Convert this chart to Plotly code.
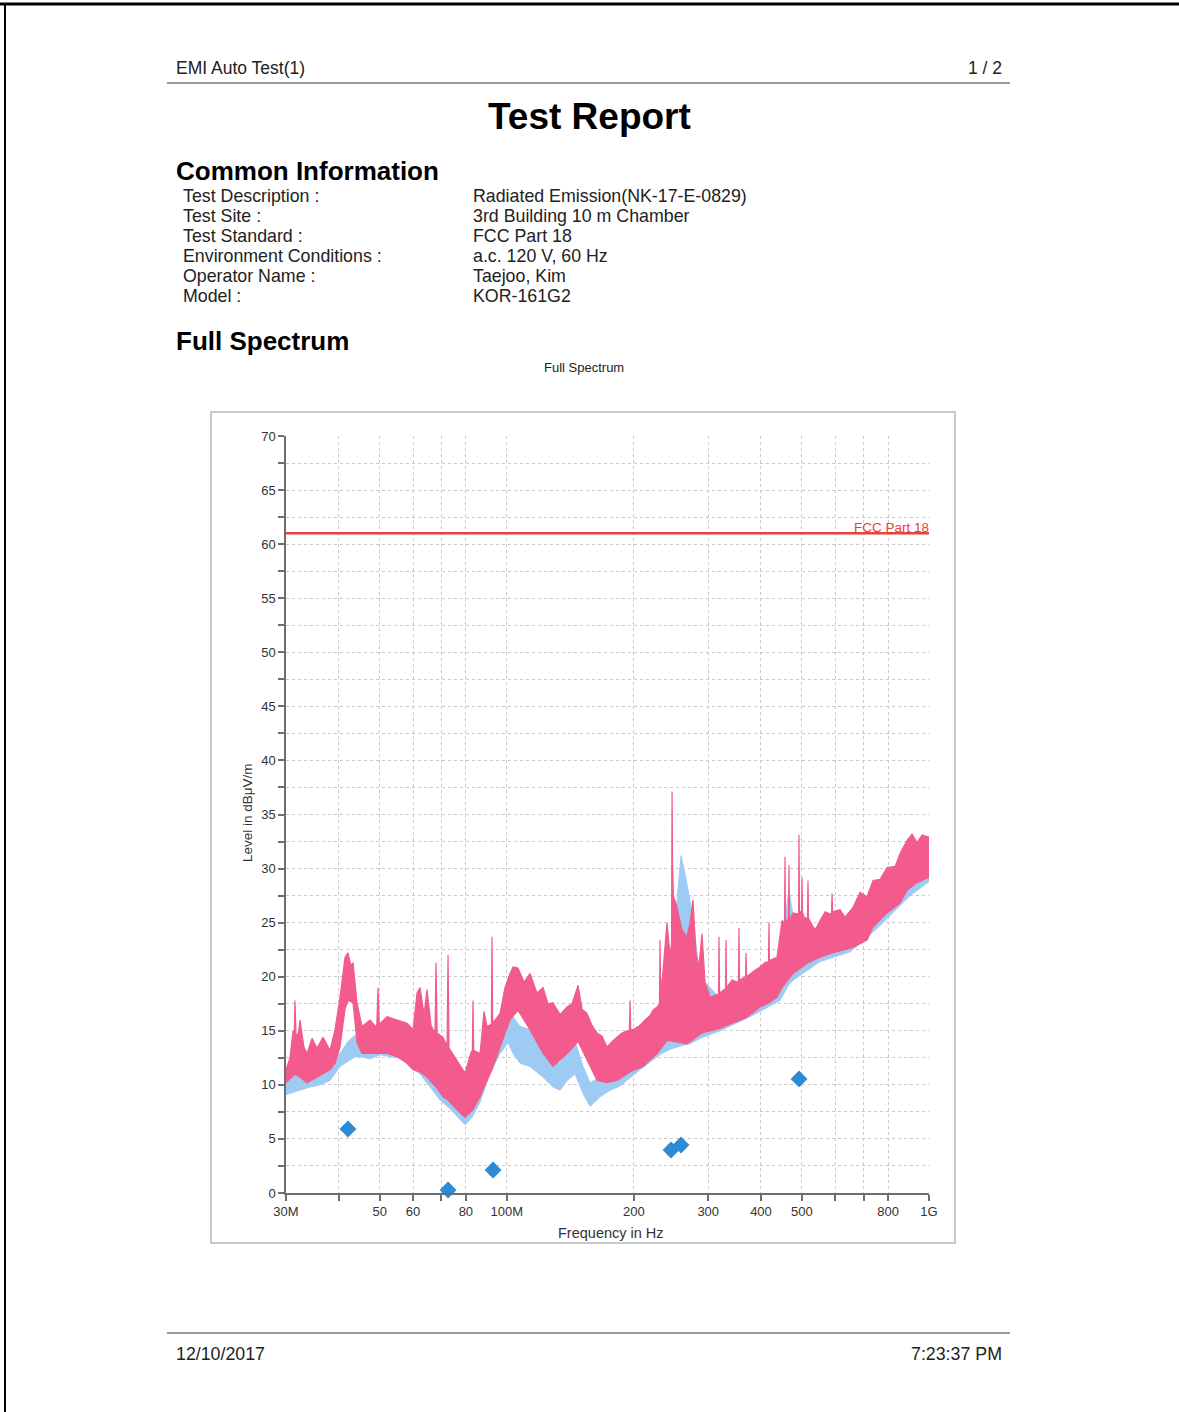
import math
import plotly.graph_objects as go

# ---------------- data ----------------
info_labels = ["Test Description :", "Test Site :", "Test Standard :",
               "Environment Conditions :", "Operator Name :", "Model :"]
info_values = ["Radiated Emission(NK-17-E-0829)", "3rd Building 10 m Chamber",
               "FCC Part 18", "a.c. 120 V, 60 Hz", "Taejoo, Kim", "KOR-161G2"]

x_tick_vals = [30, 40, 50, 60, 70, 80, 100, 200, 300, 400, 500, 600, 700, 800, 1000]
x_tick_text = ["30M", "", "50", "60", "", "80", "100M", "200", "300", "400", "500", "", "", "800", "1G"]
y_tick_vals = [0, 5, 10, 15, 20, 25, 30, 35, 40, 45, 50, 55, 60, 65, 70]

limit_freq = [30, 1000]
limit_level = [61, 61]

# pink trace (upper envelope incl. narrow spikes) [MHz, dBuV/m]
pink_top_freq = [30.0, 30.66, 31.17, 31.35, 31.5, 31.7, 32.1, 32.38, 33.09, 33.64, 34.57, 35.53,
                 36.71, 38.14, 39.19, 40.27, 41.39, 42.07, 42.77, 43.24, 44.19, 45.41, 47.44, 49.2,
                 49.55, 49.9, 52.05, 54.97, 58.05, 59.98, 61.31, 62.32, 63.69, 64.74, 66.17, 67.6,
                 68.0, 68.4, 70.64, 72.2, 72.59, 73.0, 76.25, 79.64, 82.29, 82.9, 83.19, 83.5,
                 86.43, 88.33, 89.79, 91.27, 91.95, 92.27, 92.6, 96.39, 99.05, 101.8, 103.5, 106.3,
                 109.9, 113.5, 117.9, 121.9, 125.2, 128.7, 133.7, 138.9, 142.7, 147.5, 150.8, 154.9,
                 159.2, 163.6, 168.1, 172.8, 177.5, 182.4, 187.5, 192.7, 195.2, 195.9, 196.6, 199.1,
                 206.8, 212.5, 218.4, 222.0, 226.9, 229.9, 230.7, 231.5, 234.5, 239.6, 243.6, 245.6,
                 246.3, 247.0, 248.0, 250.3, 253.1, 260.1, 267.3, 271.7, 276.1, 280.8, 285.3, 290.0,
                 294.8, 303.0, 314.8, 317.3, 318.2, 319.1, 327.0, 329.7, 330.6, 331.5, 341.6, 351.0,
                 353.9, 354.9, 355.9, 367.7, 368.7, 369.7, 387.2, 397.9, 408.9, 416.8, 417.9, 419.0,
                 436.5, 443.7, 448.6, 454.8, 456.0, 457.2, 464.8, 466.0, 467.2, 476.3, 486.8, 490.9,
                 492.2, 493.5, 499.0, 500.3, 501.6, 505.8, 515.5, 516.9, 518.3, 537.3, 552.1, 567.6,
                 583.0, 587.8, 589.4, 591.0, 615.8, 632.8, 660.8, 686.5, 713.2, 737.0, 765.7, 795.4,
                 831.4, 854.0, 887.3, 911.8, 937.0, 962.9, 1000.0]
pink_top = [11.4, 12.5, 15.0, 14.2, 17.8, 14.5, 14.8, 16.0, 13.5, 12.9, 14.3, 13.4,
            14.4, 13.2, 15.1, 18.1, 21.8, 22.2, 21.0, 21.3, 17.6, 15.4, 16.0, 15.3,
            19.0, 15.6, 16.3, 16.0, 15.7, 15.1, 18.5, 19.0, 16.5, 18.8, 15.5, 14.8,
            21.3, 14.8, 14.4, 13.6, 22.0, 13.4, 12.3, 11.1, 13.0, 13.2, 17.8, 13.2,
            12.9, 16.8, 15.4, 15.5, 15.6, 23.7, 15.7, 16.6, 19.0, 20.3, 20.9, 20.8,
            19.5, 20.3, 18.5, 19.0, 17.5, 17.6, 16.5, 17.2, 17.5, 19.2, 17.0, 16.6,
            15.5, 14.8, 14.5, 13.5, 14.0, 14.4, 14.8, 15.0, 15.0, 17.8, 15.1, 15.1,
            15.5, 16.0, 16.4, 16.9, 17.2, 17.5, 23.4, 18.5, 20.6, 25.0, 22.0, 23.0,
            37.1, 30.5, 27.5, 27.0, 26.4, 24.3, 23.7, 25.0, 27.1, 22.0, 21.0, 24.0,
            19.5, 18.1, 18.4, 18.4, 23.7, 18.5, 18.8, 18.9, 23.4, 19.0, 19.7, 19.5,
            19.6, 24.5, 19.7, 20.0, 22.2, 20.0, 20.6, 20.9, 21.3, 21.4, 25.0, 21.5,
            21.8, 24.0, 25.2, 25.0, 31.1, 25.2, 25.3, 30.3, 25.2, 25.9, 25.8, 25.8,
            33.1, 26.0, 26.0, 29.2, 26.0, 25.5, 25.4, 28.9, 25.4, 24.3, 25.2, 26.0,
            25.8, 25.9, 27.7, 26.0, 26.2, 25.5, 26.4, 27.8, 27.4, 28.9, 29.0, 30.1,
            30.2, 31.4, 32.6, 33.2, 32.4, 33.1, 32.9]

# pink trace (lower envelope)
pink_bot_freq = [30.0, 31.5, 32.38, 33.64, 35.53, 38.14, 39.19, 40.27, 41.39, 42.07, 43.24, 44.19,
                 45.41, 47.44, 52.05, 54.97, 58.05, 59.98, 62.32, 64.74, 68.0, 70.64, 72.59, 76.25,
                 79.64, 83.19, 86.43, 89.79, 92.27, 96.39, 101.8, 106.3, 113.5, 121.9, 128.7, 138.9,
                 147.5, 154.9, 163.6, 172.8, 182.4, 195.9, 210.2, 226.9, 239.6, 267.3, 290.0, 318.2,
                 341.6, 368.7, 397.9, 417.9, 436.5, 448.6, 476.3, 516.9, 552.1, 589.4, 660.8, 713.2,
                 737.0, 795.4, 854.0, 887.3, 937.0, 1000.0]
pink_bot = [10.2, 11.0, 10.7, 10.2, 10.7, 11.4, 12.0, 13.5, 17.0, 17.8, 17.6, 13.9,
            12.9, 12.9, 12.9, 12.6, 12.0, 11.4, 11.2, 10.7, 9.8, 8.9, 8.6, 7.7,
            7.0, 7.7, 8.9, 10.4, 11.4, 13.5, 16.0, 16.9, 15.1, 12.9, 11.7, 12.9,
            14.0, 12.3, 10.4, 10.2, 10.4, 11.2, 11.7, 12.9, 14.1, 13.8, 14.8, 15.2,
            15.7, 16.2, 17.2, 17.6, 18.1, 19.0, 20.3, 21.3, 21.8, 22.2, 22.7, 23.4,
            24.6, 25.9, 26.8, 28.0, 28.7, 29.2]

# light blue trace (upper / lower envelope)
blue_freq = [30.0, 31.0, 32.38, 34.19, 36.11, 38.14, 40.27, 42.07, 43.71, 45.41, 47.44, 50.09,
             52.9, 55.87, 59.0, 62.32, 65.09, 69.5, 73.39, 76.66, 79.64, 82.74, 86.43, 91.27,
             96.39, 100.7, 103.5, 107.5, 113.5, 121.9, 128.7, 133.7, 138.9, 145.1, 151.6, 157.5,
             166.3, 175.6, 185.5, 206.8, 230.7, 243.6, 251.8, 258.7, 264.4, 271.7, 277.6, 286.9,
             320.0, 376.8, 443.7, 466.0, 481.5, 552.1, 650.2, 754.9, 901.9, 1000.0]
blue_top = [11.5, 12.0, 11.0, 11.2, 11.8, 12.0, 12.9, 14.0, 14.6, 14.0, 13.5, 14.6,
            13.9, 13.5, 12.9, 12.6, 12.0, 10.4, 9.2, 8.4, 7.7, 8.5, 10.0, 12.9,
            15.1, 16.5, 16.3, 15.4, 15.1, 13.5, 12.3, 12.0, 13.5, 14.0, 11.7, 10.2,
            10.7, 11.4, 12.5, 14.5, 16.5, 20.0, 26.0, 31.2, 29.5, 27.0, 24.5, 20.0,
            18.0, 19.5, 22.0, 28.0, 24.5, 24.5, 25.5, 28.5, 31.5, 32.8]
blue_bot = [9.1, 9.3, 9.5, 9.8, 10.0, 10.4, 11.7, 12.2, 12.6, 12.6, 12.4, 12.8,
            12.6, 12.5, 11.7, 11.0, 10.0, 8.6, 7.8, 7.0, 6.3, 7.0, 8.4, 11.1,
            12.9, 13.9, 12.9, 12.0, 11.7, 10.7, 9.8, 9.5, 10.4, 11.0, 9.2, 8.0,
            8.9, 9.5, 9.9, 11.4, 12.8, 13.3, 13.5, 13.6, 13.7, 13.8, 14.0, 14.3,
            15.0, 16.3, 17.8, 19.3, 19.8, 21.4, 22.3, 24.5, 27.5, 28.8]

# final measurement points
final_freq = [42.06, 72.6, 92.8, 244.9, 258.6, 492.3]
final_level = [5.92, 0.28, 2.13, 3.98, 4.44, 10.55]

# ---------------- figure ----------------
W, H = 1179, 1412
FONT = "Liberation Sans, Arial, sans-serif"
PINK = "#F25B8C"
BLUE = "#9DCBF4"


def px(x):
    return x / W


def py(y):
    return 1 - y / H


fig = go.Figure()

fig.add_trace(go.Scatter(
    x=blue_freq + blue_freq[::-1], y=blue_top + blue_bot[::-1],
    mode="lines", fill="toself", fillcolor=BLUE,
    line=dict(color=BLUE, width=1), hoverinfo="skip"))

fig.add_trace(go.Scatter(
    x=pink_top_freq + pink_bot_freq[::-1], y=pink_top + pink_bot[::-1],
    mode="lines", fill="toself", fillcolor=PINK,
    line=dict(color=PINK, width=1.2), hoverinfo="skip"))

fig.add_trace(go.Scatter(
    x=limit_freq, y=limit_level, mode="lines",
    line=dict(color="#E8413C", width=2.5), hoverinfo="skip"))

fig.add_trace(go.Scatter(
    x=final_freq, y=final_level, mode="markers", cliponaxis=False,
    marker=dict(symbol="diamond", size=13, color="#2D8AD5",
                line=dict(width=0))))

plot_x0, plot_x1 = 286, 929
plot_y0, plot_y1 = 436, 1193

fig.update_layout(
    width=W, height=H,
    margin=dict(l=0, r=0, t=0, b=0, pad=0, autoexpand=False),
    paper_bgcolor="white", plot_bgcolor="white",
    showlegend=False,
    font=dict(family=FONT, color="#222"),
    xaxis=dict(
        type="log", range=[math.log10(30), 3],
        domain=[px(plot_x0), px(plot_x1)],
        tickvals=x_tick_vals, ticktext=x_tick_text,
        ticks="outside", ticklen=6, tickwidth=1.5, tickcolor="#6E6E6E",
        showline=True, linecolor="#6E6E6E", linewidth=1.5,
        showgrid=True, gridcolor="#C9C9C9", griddash="dot", gridwidth=1,
        zeroline=False, tickfont=dict(size=13, color="#333", family=FONT),
        automargin=False, fixedrange=True),
    yaxis=dict(
        range=[0, 70], domain=[py(plot_y1), py(plot_y0)],
        tickvals=y_tick_vals,
        ticks="outside", ticklen=6, tickwidth=1.5, tickcolor="#6E6E6E",
        showline=True, linecolor="#6E6E6E", linewidth=1.5,
        showgrid=True, gridcolor="#C9C9C9", griddash="dot", gridwidth=1,
        minor=dict(dtick=2.5, tick0=0, ticks="outside", ticklen=6, tickwidth=1.5,
                   tickcolor="#6E6E6E", showgrid=True, gridcolor="#C9C9C9",
                   griddash="dot", gridwidth=1),
        zeroline=False, tickfont=dict(size=13, color="#333", family=FONT),
        automargin=False, fixedrange=True),
)

shapes = []
# page border (scan edges)
shapes.append(dict(type="line", xref="paper", yref="paper", x0=px(0), x1=px(W), y0=py(4), y1=py(4),
                   line=dict(color="black", width=3)))
shapes.append(dict(type="line", xref="paper", yref="paper", x0=px(5), x1=px(5), y0=py(4), y1=py(H),
                   line=dict(color="black", width=2)))
# header / footer rules
shapes.append(dict(type="line", xref="paper", yref="paper", x0=px(167), x1=px(1010), y0=py(83), y1=py(83),
                   line=dict(color="#9A9A9A", width=2)))
shapes.append(dict(type="line", xref="paper", yref="paper", x0=px(167), x1=px(1010), y0=py(1333), y1=py(1333),
                   line=dict(color="#9A9A9A", width=2)))
# chart frame
shapes.append(dict(type="rect", xref="paper", yref="paper", x0=px(211), x1=px(955), y0=py(1243), y1=py(412),
                   line=dict(color="#C8C8C8", width=2), layer="below"))
fig.update_layout(shapes=shapes)

ann = []


def text(x, y, s, size, anchor="left", bold=False, color="#222", angle=0):
    ann.append(dict(x=px(x), y=py(y), xref="paper", yref="paper", text=s, showarrow=False,
                    xanchor=anchor, yanchor="middle", textangle=angle, borderpad=0,
                    font=dict(family=FONT, size=size, color=color,
                              weight="bold" if bold else "normal")))


text(175, 68, "EMI Auto Test(1)", 17.5)
text(1003, 68, "1 / 2", 17.5, anchor="right")
text(589, 116, "Test Report", 37, anchor="center", bold=True, color="black")
text(175, 171, "Common Information", 26, bold=True, color="black")
for i, (lab, val) in enumerate(zip(info_labels, info_values)):
    yy = 196 + 20 * i
    text(182, yy, lab, 17.8)
    text(472, yy, val, 17.8)
text(175, 341, "Full Spectrum", 26, bold=True, color="black")
text(584, 368, "Full Spectrum", 13, anchor="center")
text(930, 527, "FCC Part 18", 13.5, anchor="right", color="#E8413C")
text(611, 1233, "Frequency in Hz", 14.5, anchor="center", color="#333")
text(247, 813, "Level in dBμV/m", 13.5, anchor="center", color="#333", angle=-90)
text(175, 1354, "12/10/2017", 17.8)
text(1003, 1354, "7:23:37 PM", 17.8, anchor="right")
fig.update_layout(annotations=ann)

fig.write_html("out.html", config={"displayModeBar": False},
               post_script="document.body.style.margin='0';document.body.style.overflow='hidden';")
